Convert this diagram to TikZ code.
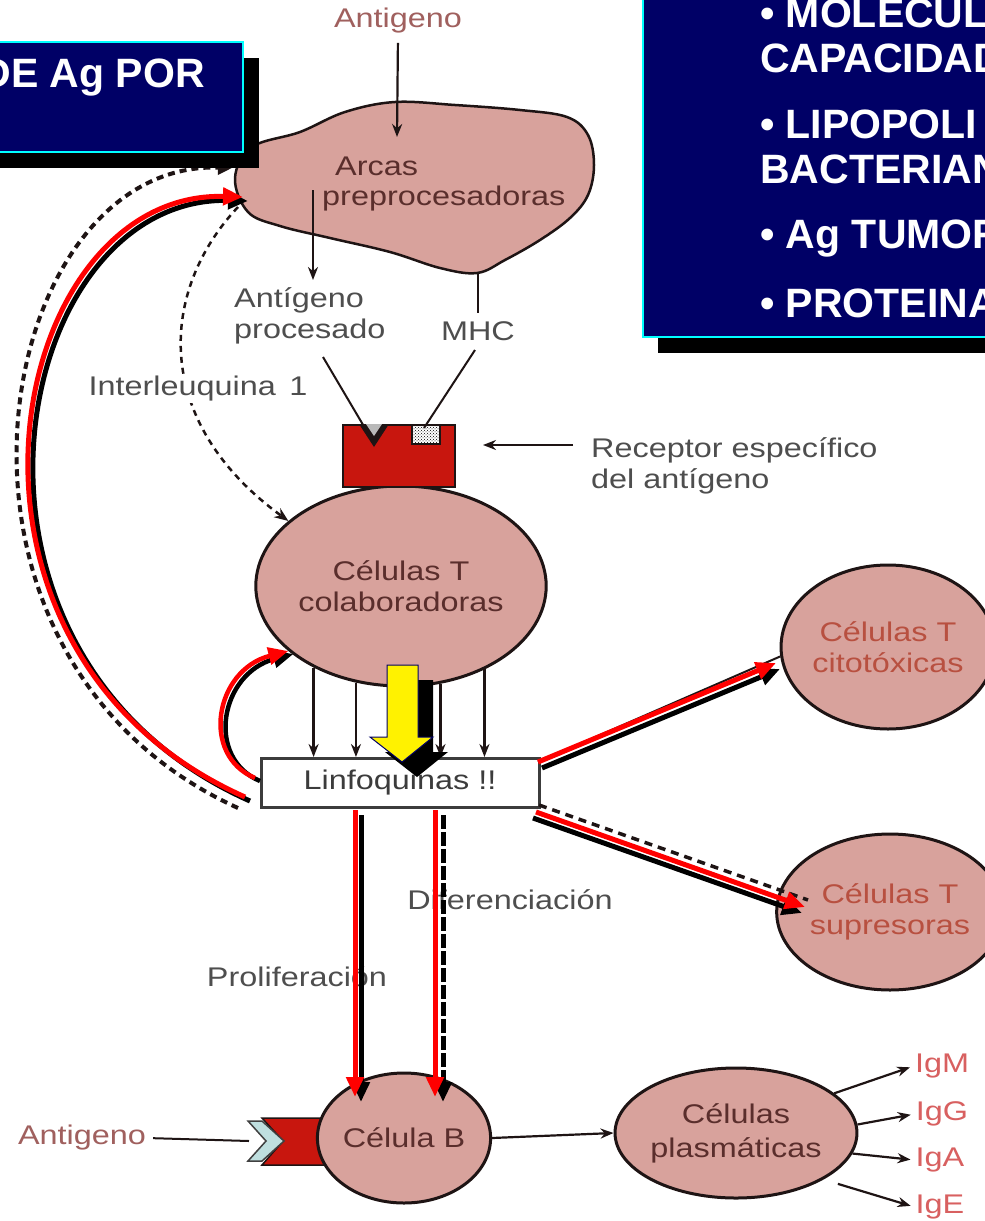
\documentclass[tikz,border=0pt]{standalone}
\usepackage{fontspec}
\setmainfont{Liberation Sans}
\newfontfamily\lbl[FakeStretch=1.2]{Liberation Sans}
\usetikzlibrary{shapes.geometric,arrows.meta,calc,patterns}
\definecolor{navy}{HTML}{000066}
\definecolor{cyanb}{HTML}{00FFFF}
\definecolor{cellpink}{HTML}{D8A29C}
\definecolor{celltext}{HTML}{5A2E2C}
\definecolor{labgray}{HTML}{4E4E4E}
\definecolor{agred}{HTML}{A0605E}
\definecolor{redtext}{HTML}{B85040}
\definecolor{igred}{HTML}{D86060}
\definecolor{recred}{HTML}{C8160E}
\definecolor{outl}{HTML}{1E1414}
\definecolor{linegray}{HTML}{3C3C3C}
\begin{document}
\begin{tikzpicture}[x=1pt,y=-1pt,
  lab/.style={font=\lbl\fontsize{27}{31}\selectfont, text=labgray, inner sep=1pt, align=center},
  cell/.style={ellipse, draw=outl, line width=3pt, fill=cellpink, inner sep=0pt, align=center, font=\lbl\fontsize{27}{31}\selectfont, text=celltext},
  thinarr/.style={draw=outl, line width=2.2pt, -{Stealth[length=13pt,width=10pt]}},
  redarr/.style={draw=red, line width=5pt, -{Triangle[length=20pt,width=17pt]}},
  blkarr/.style={draw=black, line width=5pt, -{Triangle[length=20pt,width=17pt]}},
  dasharr/.style={draw=outl, line width=2.5pt, dash pattern=on 6pt off 5pt, -{Stealth[length=14pt,width=11pt]}},
  bt/.style={font=\bfseries\fontsize{41}{45}\selectfont, text=white, inner sep=0pt},
]
\useasboundingbox (0,0) rectangle (985,1221);
\fill[white] (0,0) rectangle (985,1221);
\clip (0,0) rectangle (985,1221);

% ---------- coordinates ----------
\coordinate (blobtop) at (397,137);
\coordinate (blobin) at (313,190);
\coordinate (blobin2) at (313,280);
\coordinate (blobmhc) at (478,272);
\coordinate (mhcline) at (478,313);
\coordinate (bigend) at (243,197);
\coordinate (bigs) at (245,797);
\coordinate (ilst) at (238,207);
\coordinate (notch) at (372,440);
\coordinate (chk) at (424,428);
\coordinate (l1a) at (323,357);
\coordinate (l2a) at (475,350);
\coordinate (ra1) at (573,445);
\coordinate (ra2) at (483,445);
\coordinate (ls) at (255,778);
\coordinate (ru1) at (538,762);
\coordinate (ru2) at (776,663);
\coordinate (rd1) at (536,812);
\coordinate (rd2) at (805,907);
\coordinate (v1s) at (355,810);
\coordinate (v1e) at (355,1097);
\coordinate (v2s) at (435,810);
\coordinate (v2e) at (435,1097);
\coordinate (brec) at (249,1141);
\coordinate (dss) at (238,808);
\coordinate (dse) at (232,168);

% ---------- Arcas preprocesadoras ----------
\draw[draw=outl, line width=2.5pt, fill=cellpink] plot[smooth cycle, tension=0.6] coordinates {(235,178) (252,147) (300,132) (345,112) (395,102) (455,105) (520,110) (567,117) (588,135) (594,165) (588,195) (570,218) (540,240) (505,260) (477,273) (440,268) (390,252) (330,238) (280,226) (248,212)};
\node[lab, text=celltext, anchor=base west, inner sep=0pt] (arc1) at (335,175) {Arcas};
\node[lab, text=celltext, anchor=base west, inner sep=0pt] (arc2) at (322,205) {preprocesadoras};

\node[lab, text=agred] (agtop) at (398,21) {Antigeno};
\draw[thinarr, shorten <=8pt] (agtop.south) -- (blobtop);
\draw[thinarr] (blobin) -- (blobin2);

\node[lab, align=left, anchor=west] (apro) at (233,316) {Antígeno\\procesado};
\node[lab] (mhc) at (478,331) {MHC};
\draw[outl, line width=2.5pt] (blobmhc) -- (mhcline);

% ---------- T colaboradoras + receptor ----------
\node[cell, minimum width=270pt, minimum height=200pt] (th) at (401,586) {Células T\\colaboradoras};
\draw[outl, line width=2pt, fill=recred] (343,425) rectangle (455,487);
\fill[outl] (359,424) -- (389,424) -- (374,447) -- cycle;
\fill[gray!55] (366,424) -- (382,424) -- (374,436) -- cycle;
\draw[outl, line width=1.5pt, fill=white] (412,425) rectangle (440,444);
\fill[pattern=crosshatch dots, pattern color=black] (413,426) rectangle (439,443);
\draw[outl, line width=2pt] (l1a) -- (notch);
\draw[outl, line width=2pt] (l2a) -- (chk);

\node[lab, align=left, anchor=west] (recl) at (590,466) {Receptor específico\\del antígeno};
\draw[draw=outl, line width=2pt, -{Stealth[length=13pt,width=10pt]}] (ra1) -- (ra2);

% Interleuquina dashed
\draw[dasharr] (ilst) .. controls (160,290) and (150,420) .. (th.150);
\node[lab, fill=white] (il) at (198,389) {Interleuquina\, 1};

% ---------- Linfoquinas ----------
\node[draw=linegray, line width=3pt, fill=white, minimum width=278pt, minimum height=49pt, font=\lbl\fontsize{27}{31}\selectfont, text=linegray, inner sep=0pt] (lin) at (400,783) {Linfoquinas !!};
\draw[thinarr] (th.223) -- (th.223 |- lin.north);
\draw[thinarr] (th.245) -- (th.245 |- lin.north);
\draw[thinarr] (th.292.7) -- (th.292.7 |- lin.north);
\draw[thinarr] (th.315.9) -- (th.315.9 |- lin.north);

% yellow arrow
\fill[black] (402,680) -- (433,680) -- (433,752) -- (448,752) -- (417,777) -- (385,752) -- (402,752) -- cycle;
\draw[navy, line width=1pt, fill=yellow] (387,665) -- (418,665) -- (418,737) -- (433,737) -- (402,762) -- (370,737) -- (387,737) -- cycle;

% ---------- big feedback curves ----------
\draw[outl, line width=4pt, dash pattern=on 7pt off 5pt, -{Triangle[length=14pt,width=14pt]}] (dss) .. controls (-98,655) and (-8,160) .. (dse);
\draw[blkarr, transform canvas={xshift=5pt,yshift=-4pt}] (bigs) .. controls (-85,650) and (5,190) .. (bigend);
\draw[redarr] (bigs) .. controls (-85,650) and (5,190) .. (bigend);

\draw[blkarr, line width=4.5pt, transform canvas={xshift=5pt,yshift=-3pt}] (ls) .. controls (200,755) and (215,670) .. (th.210);
\draw[redarr, line width=4.5pt] (ls) .. controls (200,755) and (215,670) .. (th.210);

% ---------- right cells ----------
\node[cell, text=redtext, minimum width=190pt, minimum height=164pt] (tcit) at (888,647) {Células T\\citotóxicas};
\node[cell, text=redtext, minimum width=186pt, minimum height=156pt] (tsup) at (890,912) {Células T\\supresoras};

\draw[outl, line width=2pt] (ru1) -- (tcit.185);
\draw[blkarr, transform canvas={xshift=4pt,yshift=-6pt}] (ru1) -- (ru2);
\draw[redarr] (ru1) -- (ru2);

\draw[outl, line width=3.5pt, dash pattern=on 8pt off 6pt, transform canvas={xshift=3pt,yshift=7pt}] (rd1) -- (rd2);
\draw[blkarr, transform canvas={xshift=-3pt,yshift=-6pt}] (rd1) -- (rd2);
\draw[redarr] (rd1) -- (rd2);

% ---------- labels of the vertical arrows ----------
\node[lab] (dif) at (510,900) {Diferenciación};
\node[lab] (prol) at (297,977) {Proliferación};

% ---------- B cell ----------
\draw[outl, line width=1.5pt, fill=recred] (262,1118) -- (328,1118) -- (328,1165) -- (262,1165) -- (283,1141) -- cycle;
\draw[draw=black!75, line width=1.5pt, fill=teal!25] (248,1121) -- (262,1121) -- (284,1141) -- (262,1161) -- (248,1161) -- (266,1141) -- cycle;
\node[cell, minimum width=158pt, minimum height=130pt] (bcell) at (404,1138) {Célula B};

\draw[blkarr, transform canvas={xshift=6pt,yshift=-5pt}] (v1s) -- (v1e);
\draw[redarr] (v1s) -- (v1e);
\draw[draw=black, line width=5pt, dash pattern=on 14pt off 3pt, -{Triangle[length=20pt,width=17pt]}, transform canvas={xshift=8pt,yshift=-5pt}] (v2s) -- (v2e);
\draw[redarr] (v2s) -- (v2e);

\node[lab, text=agred] (agb) at (82,1138) {Antigeno};
\draw[outl, line width=2pt, shorten <=6pt] (agb.east) -- (brec);

% ---------- plasma cells ----------
\node[cell, minimum width=172pt, minimum height=130pt] (plas) at (736,1133) {Células\\[3pt]plasmáticas};
\draw[thinarr] (bcell.east) -- (plas.west);

\node[lab, text=igred] (igm) at (942,1066) {IgM};
\node[lab, text=igred] (igg) at (942,1114) {IgG};
\node[lab, text=igred] (iga) at (940,1160) {IgA};
\node[lab, text=igred] (ige) at (940,1207) {IgE};
\draw[thinarr, shorten >=4pt] (plas.22) -- (igm.west);
\draw[thinarr, shorten >=4pt] (plas.4) -- (igg.west);
\draw[thinarr, shorten >=4pt] (plas.-10) -- (iga.west);
\draw[thinarr, shorten >=4pt, shorten <=15pt] (plas.-28) -- (ige.west);

% ---------- blue boxes ----------
\fill[black] (-30,58) rectangle (259,168);
\draw[draw=cyanb, line width=1.5pt, fill=navy] (-30,42) rectangle (243,152);
\node[bt, anchor=base east] (lt) at (205,87) {DE Ag POR};

\fill[black] (658,-30) rectangle (1010,353);
\draw[draw=cyanb, line width=1.5pt, fill=navy] (643,-30) rectangle (1010,337);
\node[bt, anchor=base west] (r1) at (760,27) {• MOLECUL};
\node[bt, anchor=base west] (r2) at (760,72) {CAPACIDAD};
\node[bt, anchor=base west] (r3) at (760,138) {• LIPOPOLI};
\node[bt, anchor=base west] (r4) at (760,183) {BACTERIAN};
\node[bt, anchor=base west] (r5) at (760,248) {• Ag TUMOR};
\node[bt, anchor=base west] (r6) at (760,317) {• PROTEINA};
\end{tikzpicture}
\end{document}
